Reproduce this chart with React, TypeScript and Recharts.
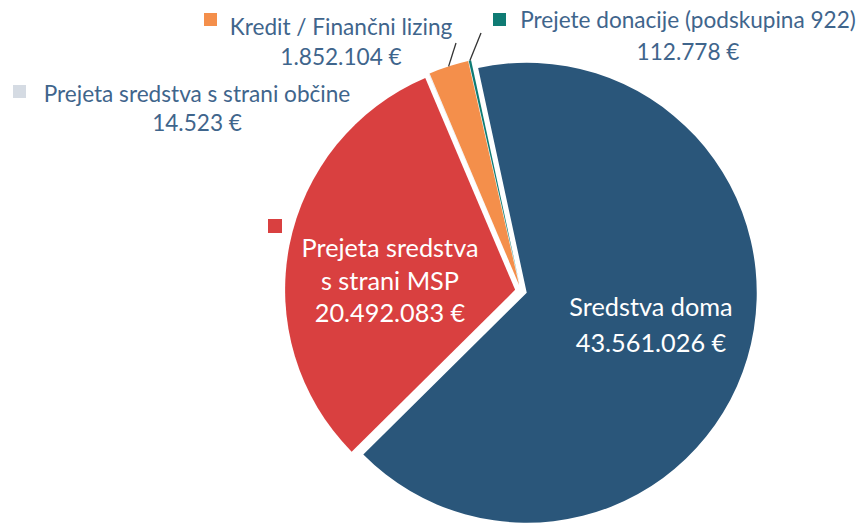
import React from 'react';
import { PieChart, Pie, Sector } from 'recharts';

// ---- data ----
const categories = [
  'Sredstva doma',
  'Prejeta sredstva s strani MSP',
  'Prejeta sredstva s strani občine',
  'Kredit / Finančni lizing',
  'Prejete donacije (podskupina 922)',
];
const values = [43561026, 20492083, 14523, 1852104, 112778];
const labelTitleLines = [
  ['Sredstva doma'],
  ['Prejeta sredstva', 's strani MSP'],
  ['Prejeta sredstva s strani občine'],
  ['Kredit / Finančni lizing'],
  ['Prejete donacije (podskupina 922)'],
];

// ---- styles / layout ----
const COLORS = ['#2a567a', '#d94040', '#d5dbe3', '#f48f4b', '#0f7b74'];
const TEXT_BLUE = '#3f658c';
const EXPLODE = 6;
const R = 230;
const OUTER_FONT = 22.6;
const INNER_FONT = 25.3;

type Layout = {
  x: number;
  baselines: number[];
  inside: boolean;
  square?: [number, number, number];
  leaderEnd?: [number, number];
};
const LAYOUT: Layout[] = [
  { x: 651, baselines: [316, 352], inside: true },
  { x: 390, baselines: [257, 290, 322], inside: true, square: [268, 219, 14] },
  { x: 197, baselines: [102, 131], inside: false, square: [13, 85, 13] },
  { x: 341, baselines: [35, 65], inside: false, square: [204, 13, 13], leaderEnd: [456, 43] },
  { x: 688, baselines: [28, 60], inside: false, square: [493, 13, 13], leaderEnd: [481, 33] },
];

const fmt = (v: number) => String(v).replace(/\B(?=(\d{3})+(?!\d))/g, '.') + ' €';

const data = categories.map((name, i) => ({ name, value: values[i] }));

const RAD = Math.PI / 180;

function renderSlice(props: any) {
  const { cx, cy, midAngle, startAngle, endAngle, outerRadius, index } = props;
  const dx = EXPLODE * Math.cos(-midAngle * RAD);
  const dy = EXPLODE * Math.sin(-midAngle * RAD);
  const ecx = cx + dx;
  const ecy = cy + dy;
  const lay = LAYOUT[index];
  const lines = [...labelTitleLines[index], fmt(values[index])];
  const textFill = lay.inside ? '#ffffff' : TEXT_BLUE;
  const fs = lay.inside ? INNER_FONT : OUTER_FONT;
  let leader = null;
  if (lay.leaderEnd) {
    const ox = ecx + outerRadius * Math.cos(-midAngle * RAD);
    const oy = ecy + outerRadius * Math.sin(-midAngle * RAD);
    leader = (
      <line x1={ox} y1={oy} x2={lay.leaderEnd[0]} y2={lay.leaderEnd[1]} stroke="#333" strokeWidth={1.3} />
    );
  }
  return (
    <g key={`slice-${index}`}>
      <Sector
        cx={ecx}
        cy={ecy}
        innerRadius={0}
        outerRadius={outerRadius}
        startAngle={startAngle}
        endAngle={endAngle}
        fill={COLORS[index]}
        stroke="none"
      />
      {leader}
      {lay.square && (
        <rect x={lay.square[0]} y={lay.square[1]} width={lay.square[2]} height={lay.square[2]} fill={COLORS[index]} />
      )}
      {lines.map((t, k) => (
        <text
          key={k}
          x={lay.x}
          y={lay.baselines[k]}
          textAnchor="middle"
          fill={textFill}
          fontFamily="Lato, 'Noto Sans', sans-serif"
          fontSize={fs}
        >
          {t}
        </text>
      ))}
    </g>
  );
}

export default function App() {
  return (
    <div style={{ position: 'absolute', left: 0, top: 0, width: 859, height: 525, overflow: 'hidden' }}>
      <PieChart width={859} height={525} margin={{ top: 0, right: 0, bottom: 0, left: 0 }}>
        <Pie
          data={data}
          dataKey="value"
          nameKey="name"
          cx={521}
          cy={291}
          outerRadius={R}
          startAngle={102.2}
          endAngle={-257.8}
          fill="none"
          stroke="none"
          label={renderSlice}
          labelLine={false}
          isAnimationActive={false}
        />
      </PieChart>
    </div>
  );
}
